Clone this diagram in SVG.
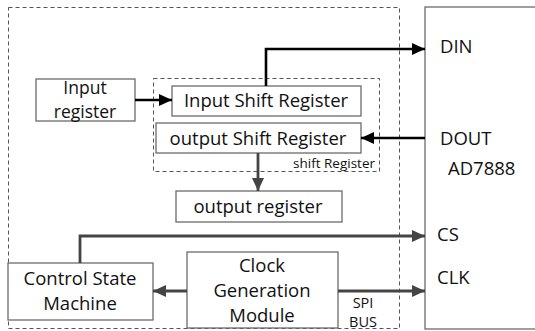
<svg xmlns="http://www.w3.org/2000/svg" width="535" height="331" viewBox="0 0 535 331">
<defs>
<style>
.box{fill:#fff;stroke:#6b6b6b;stroke-width:1.3}
.dash{fill:none;stroke:#555;stroke-width:1;stroke-dasharray:4 3}
.t{font-family:"Open Sans","Liberation Sans",sans-serif;font-size:18.5px;fill:#111}
.s{font-family:"Open Sans","Liberation Sans",sans-serif;font-size:13.5px;fill:#111}
.blk{fill:none;stroke:#000;stroke-width:2.6}
.gry{fill:none;stroke:#444;stroke-width:2.8}
</style>
<marker id="ab" viewBox="0 0 10 10" refX="10" refY="5" markerWidth="13" markerHeight="12" markerUnits="userSpaceOnUse" orient="auto" preserveAspectRatio="none">
<path d="M0,0 L10,5 L0,10 z" fill="#000"/>
</marker>
<marker id="ag" viewBox="0 0 10 10" refX="10" refY="5" markerWidth="13" markerHeight="12" markerUnits="userSpaceOnUse" orient="auto" preserveAspectRatio="none">
<path d="M0,0 L10,5 L0,10 z" fill="#444"/>
</marker>
</defs>
<rect width="535" height="331" fill="#fff"/>
<g id="outer"><rect class="dash" x="8.5" y="7.5" width="391" height="321"/></g>
<g id="ad7888">
<rect class="box" x="425" y="7" width="120" height="322"/>
<text class="t" x="440" y="53">DIN</text>
<text class="t" x="440" y="145">DOUT</text>
<text class="t" x="448" y="175">AD7888</text>
<text class="t" x="437" y="241">CS</text>
<text class="t" x="437" y="284">CLK</text>
</g>
<g id="shiftgroup">
<rect class="dash" x="153.5" y="78.5" width="226" height="93"/>
<text class="s" x="375" y="168" text-anchor="end">shift Register</text>
</g>
<g id="inputreg">
<rect class="box" x="36" y="79" width="99" height="42"/>
<text class="t" x="85" y="94" text-anchor="middle" style="font-size:17.5px">Input</text>
<text class="t" x="85" y="118" text-anchor="middle" style="font-size:17.5px">register</text>
</g>
<g id="inshift">
<rect class="box" x="172" y="86" width="189" height="30"/>
<text class="t" x="266" y="107" text-anchor="middle">Input Shift Register</text>
</g>
<g id="outshift">
<rect class="box" x="156" y="123" width="205" height="30"/>
<text class="t" x="258" y="145" text-anchor="middle">output Shift Register</text>
</g>
<g id="outreg">
<rect class="box" x="176" y="191" width="166" height="31"/>
<text class="t" x="258" y="213" text-anchor="middle">output register</text>
</g>
<g id="csm">
<rect class="box" x="8" y="263" width="145" height="57"/>
<text class="t" x="80" y="285" text-anchor="middle">Control State</text>
<text class="t" x="80" y="310" text-anchor="middle">Machine</text>
</g>
<g id="clock">
<rect class="box" x="187" y="252" width="151" height="76"/>
<text class="t" x="262" y="272" text-anchor="middle">Clock</text>
<text class="t" x="262" y="297" text-anchor="middle">Generation</text>
<text class="t" x="262" y="322" text-anchor="middle">Module</text>
</g>
<g id="spi">
<text class="s" x="363" y="308" text-anchor="middle" style="font-size:14.5px">SPI</text>
<text class="s" x="363" y="327" text-anchor="middle" style="font-size:14.5px">BUS</text>
</g>
<g id="connectors">
<path class="blk" d="M135,100 H172" marker-end="url(#ab)"/>
<path class="blk" d="M266,86 V49 H425" marker-end="url(#ab)"/>
<path class="blk" d="M425,138 H361" marker-end="url(#ab)"/>
<path class="gry" d="M258,153 V191" marker-end="url(#ag)"/>
<path class="gry" d="M80,263 V236 H425" marker-end="url(#ag)"/>
<path class="gry" d="M187,291 H153" marker-end="url(#ag)"/>
<path class="gry" d="M338,291 H425" marker-end="url(#ag)"/>
</g>
</svg>
